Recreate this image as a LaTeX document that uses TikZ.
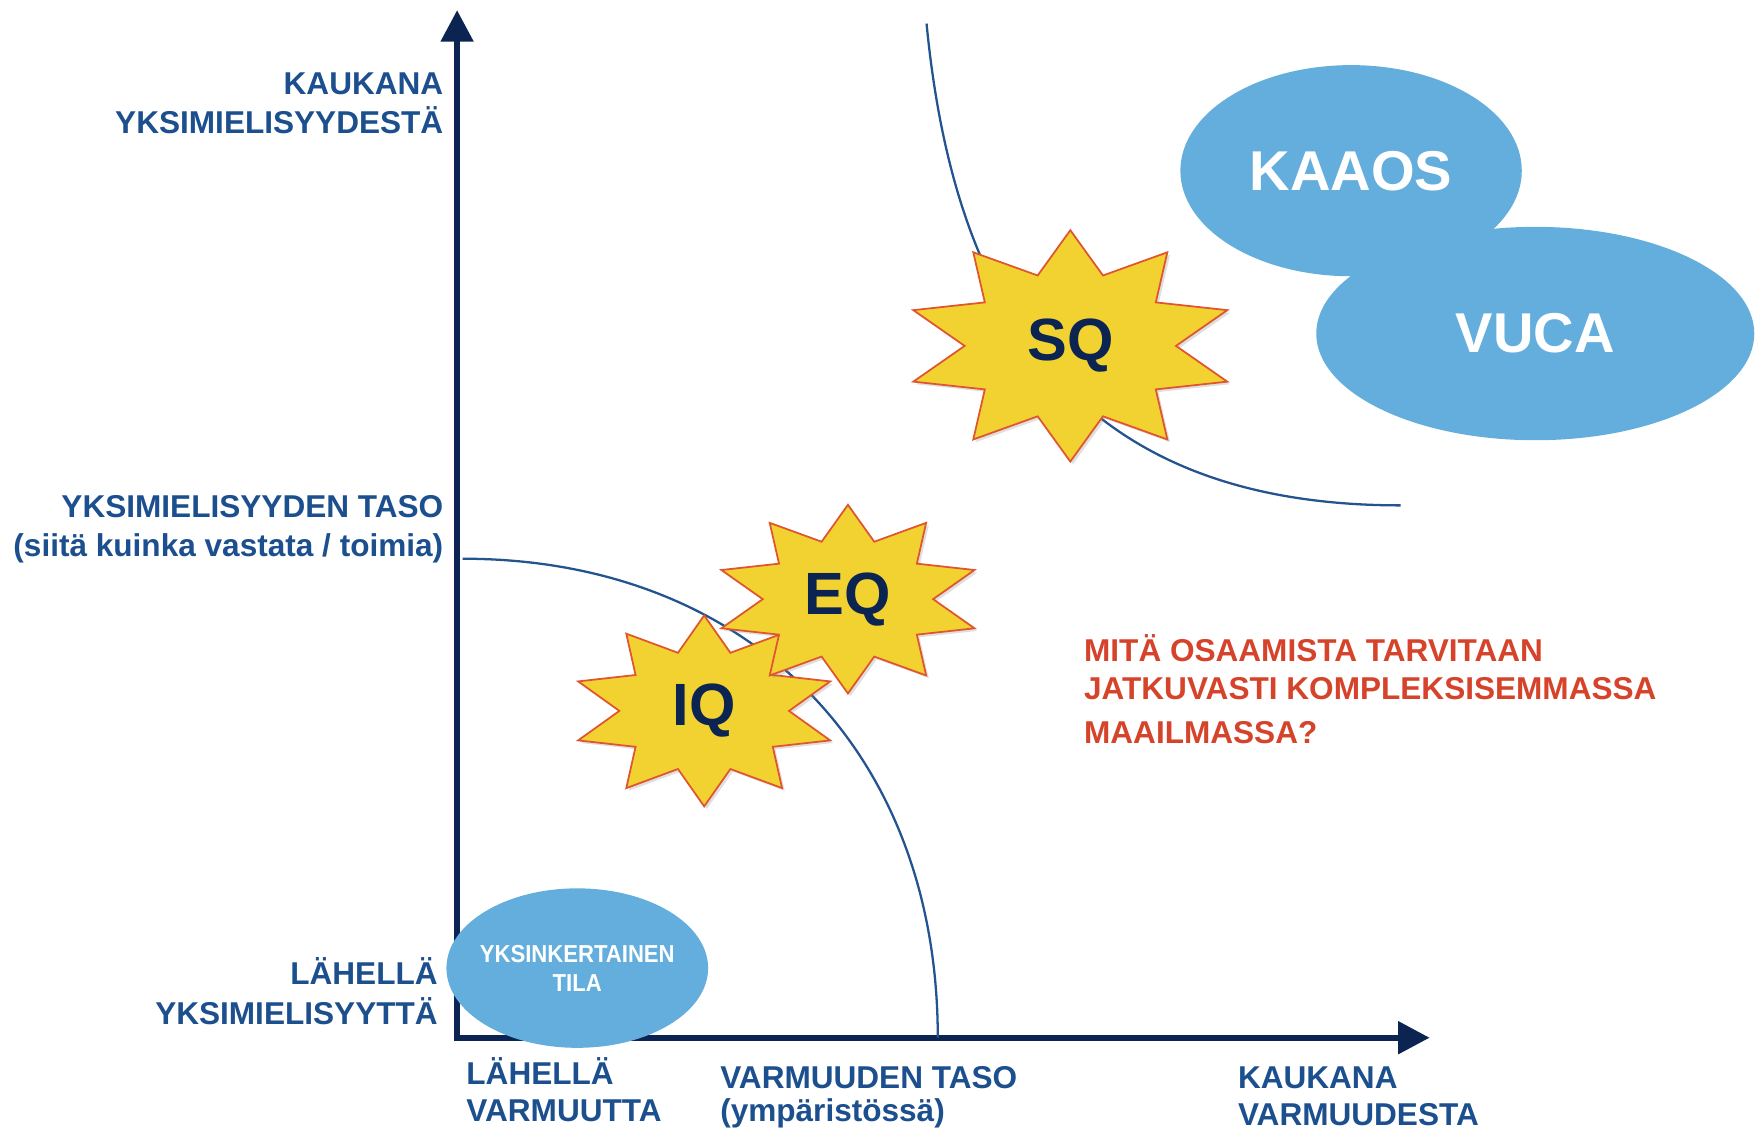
\documentclass[tikz,border=0pt]{standalone}
\usepackage{fontspec}
\setmainfont{Liberation Sans}
\newfontfamily\narrowfont{Liberation Sans}[FakeStretch=0.9]
\usetikzlibrary{arrows.meta,shapes.geometric,shadows}

\definecolor{axisnavy}{HTML}{0B2452}
\definecolor{labelblue}{HTML}{1C4F8E}
\definecolor{curveblue}{HTML}{23548F}
\definecolor{bubbleblue}{HTML}{63AEDC}
\definecolor{burstyellow}{HTML}{F2D230}
\definecolor{burstedge}{HTML}{E0552D}
\definecolor{questionred}{HTML}{D6432B}

\def\unit{0.0225cm}

\begin{document}
\begin{tikzpicture}[x=\unit, y=\unit]
	\tikzstyle{axis}=[line width=3.6pt, draw=axisnavy, {Triangle[length=18pt,width=18pt]}-{Triangle[length=18pt,width=18pt]}]
	\tikzstyle{level curve}=[line width=1.3pt, draw=curveblue]
	\tikzstyle{bubble}=[ellipse, fill=bubbleblue, inner sep=0pt, text=white, align=center]
	\tikzstyle{burst}=[fill=burstyellow, draw=burstedge, line width=1pt, drop shadow={opacity=0.25, shadow xshift=1.5pt, shadow yshift=-1.5pt}]
	\tikzstyle{burst label}=[text=axisnavy, font=\bfseries\fontsize{34}{34}\selectfont]
	\tikzstyle{axis label}=[text=labelblue, inner sep=0pt, font=\bfseries\fontsize{18}{22.5}\selectfont]
	\tikzstyle{question}=[text=questionred, inner sep=0pt, align=left, font=\bfseries\fontsize{18}{22}\selectfont]
	
	\useasboundingbox (0,0) rectangle (1568,1010);
	
	% Draw the axes
	\coordinate (O) at (407,86);
	\coordinate (ytip) at (407,1001);
	\coordinate (xtip) at (1273,86);
	\draw[axis] (ytip) -- (O) -- (xtip);
	
	% Draw the two level curves
	\coordinate (inner-start) at (412,512.5);
	\coordinate (inner-end) at (835,86);
	\draw[level curve] (inner-start) .. controls (666,512.5) and (835,341.5) .. (inner-end);
	\coordinate (outer-start) at (825,989);
	\coordinate (outer-end) at (1247,560);
	\draw[level curve] (outer-start) .. controls (850,730) and (960,560) .. (outer-end);
	
	% Draw the bubbles
	\node[bubble, minimum width=304*\unit, minimum height=188*\unit, font=\bfseries\fontsize{32}{32}\selectfont] (KAAOS) at (1203,858) {KAAOS};
	\node[bubble, minimum width=390*\unit, minimum height=190*\unit, font=\bfseries\fontsize{32}{32}\selectfont] (VUCA) at (1367,713) {VUCA};
	\node[bubble, inner xsep=-3pt, minimum width=233*\unit, minimum height=142*\unit, font=\narrowfont\bfseries\fontsize{14}{16.7}\selectfont] (simple) at (514,148) {YKSINKERTAINEN\\TILA};
	
	% Draw the stars
	\foreach \name/\cx/\cy/\rx/\ry in {SQ/953/702/147/103, IQ/627/377/118/85, EQ/755/476.5/118.5/84}
	{
		\filldraw[burst] plot[variable=\k, samples at={0,...,19}] ({\cx+\rx*cos(90+18*\k)*(1-0.36*mod(\k,2))}, {\cy+\ry*sin(90+18*\k)*(1-0.36*mod(\k,2))}) -- cycle;
		\node[burst label] (\name) at (\cx,\cy) {\name};
	}
	
	% Annotate the axes (base = last line)
	\node[axis label, anchor=base east, align=right] (far-consensus) at (395,890.7) {KAUKANA\\YKSIMIELISYYDESTÄ};
	\node[axis label, anchor=base east, align=right] (consensus-level) at (395,514.2) {YKSIMIELISYYDEN TASO\\(siitä kuinka vastata / toimia)};
	\node[axis label, anchor=base east, align=right] (near-consensus) at (390,98) {LÄHELLÄ\\YKSIMIELISYYTTÄ};
	\node[axis label, anchor=base west, align=left, font=\bfseries\fontsize{18}{21}\selectfont] (near-certainty) at (415,11.2) {LÄHELLÄ\\VARMUUTTA};
	\node[axis label, anchor=base west, align=left, font=\bfseries\fontsize{18}{18.8}\selectfont] (certainty-level) at (641,11) {VARMUUDEN TASO\\(ympäristössä)};
	\node[axis label, anchor=base west, align=left, font=\bfseries\fontsize{18}{21}\selectfont] (far-certainty) at (1102,7.6) {KAUKANA\\VARMUUDESTA};
	
	% The question
	\node[question, anchor=base west] (question) at (965,348) {MITÄ OSAAMISTA TARVITAAN\\JATKUVASTI KOMPLEKSISEMMASSA\\[3pt]MAAILMASSA?};
\end{tikzpicture}
\end{document}
